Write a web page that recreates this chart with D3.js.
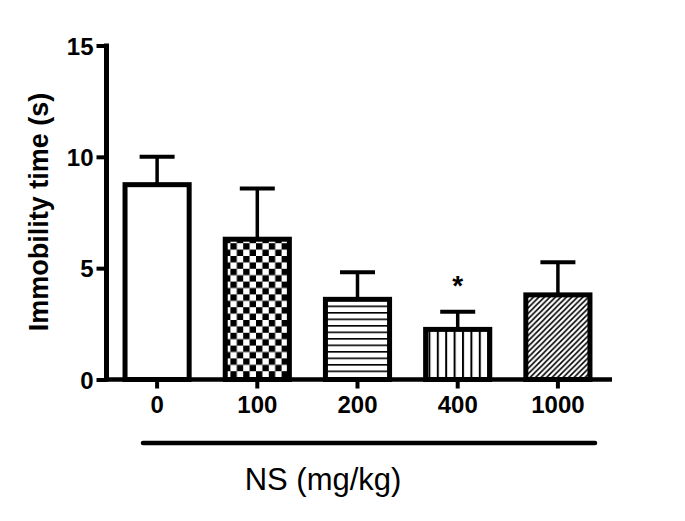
<!DOCTYPE html>
<html><head><meta charset="utf-8">
<script src="https://cdn.jsdelivr.net/npm/d3@7"></script>
<style>body{margin:0;background:#fff}svg{display:block}</style>
</head><body>
<script>
const categories = ["0","100","200","400","1000"];
const means = [8.75, 6.3, 3.6, 2.25, 3.8];
const sems = [1.25, 2.28, 1.22, 0.79, 1.47];
const patterns = ["none","checker","hlines","vlines","diag"];
const significance = ["","","","*",""];
const yTicks = [0,5,10,15];
const yLabel = "Immobility time (s)";
const xLabel = "NS (mg/kg)";

const W=685,H=521;
const svg=d3.select("body").append("svg").attr("width",W).attr("height",H);
const defs=svg.append("defs");
const cs=6.4;
const pc=defs.append("pattern").attr("id","checker").attr("patternUnits","userSpaceOnUse").attr("width",2*cs).attr("height",2*cs);
pc.append("rect").attr("width",2*cs).attr("height",2*cs).attr("fill","#fff");
pc.append("rect").attr("width",cs).attr("height",cs).attr("fill","#000");
pc.append("rect").attr("x",cs).attr("y",cs).attr("width",cs).attr("height",cs).attr("fill","#000");
const ph=defs.append("pattern").attr("id","hlines").attr("patternUnits","userSpaceOnUse").attr("width",10).attr("height",6.5);
ph.append("rect").attr("width",10).attr("height",6.5).attr("fill","#fff");
ph.append("rect").attr("y",0).attr("width",10).attr("height",1.6).attr("fill","#000");
const pv=defs.append("pattern").attr("id","vlines").attr("patternUnits","userSpaceOnUse").attr("width",8.4).attr("height",10);
pv.append("rect").attr("width",8.4).attr("height",10).attr("fill","#fff");
pv.append("rect").attr("x",0).attr("width",2).attr("height",10).attr("fill","#000");
const pd=defs.append("pattern").attr("id","diag").attr("patternUnits","userSpaceOnUse").attr("width",5.5).attr("height",5.5);
pd.append("rect").attr("width",5.5).attr("height",5.5).attr("fill","#fff");
pd.append("path").attr("d","M-1,1 L1,-1 M0,5.5 L5.5,0 M4.5,6.5 L6.5,4.5").attr("stroke","#000").attr("stroke-width",1.6);

const x=d3.scaleBand().domain(categories).range([107,608]).paddingInner(0.36).paddingOuter(0.18);
const y=d3.scaleLinear().domain([0,15]).range([379.5,45.5]);

const data=categories.map((c,i)=>({c,m:means[i],s:sems[i],p:patterns[i],sig:significance[i]}));
const g=svg.append("g");
data.forEach(d=>{
  const cx=x(d.c)+x.bandwidth()/2;
  g.append("line").attr("x1",cx).attr("x2",cx).attr("y1",y(d.m)).attr("y2",y(d.m+d.s)).attr("stroke","#000").attr("stroke-width",3.5);
  g.append("line").attr("x1",cx-17.5).attr("x2",cx+17.5).attr("y1",y(d.m+d.s)).attr("y2",y(d.m+d.s)).attr("stroke","#000").attr("stroke-width",4);
  if(d.sig){
    g.append("text").attr("x",cx).attr("y",y(d.m+d.s)-17).attr("text-anchor","middle")
     .attr("font-family","Liberation Sans, Arial, sans-serif").attr("font-weight","bold").attr("font-size",28).text(d.sig);
  }
});
g.selectAll("rect.bar").data(data).enter().append("rect").attr("class","bar")
 .attr("x",d=>x(d.c)).attr("width",x.bandwidth())
 .attr("y",d=>y(d.m)).attr("height",d=>y(0)-y(d.m))
 .attr("fill",d=>d.p==="none"?"#fff":`url(#${d.p})`)
 .attr("stroke","#000").attr("stroke-width",5);

const ya=svg.append("g").attr("transform","translate(106.5,0)")
 .call(d3.axisLeft(y).tickValues(yTicks).tickSize(10).tickPadding(3).tickFormat(d3.format("d")));
ya.select(".domain").attr("d",`M0,${y(15)-2}V${y(0)+2}`).attr("stroke","#000").attr("stroke-width",5);
ya.selectAll(".tick line").attr("stroke","#000").attr("stroke-width",4);
ya.selectAll(".tick text").attr("font-family","Liberation Sans, Arial, sans-serif").attr("font-weight","bold").attr("font-size",24).attr("fill","#000").attr("dy","0.36em");

const xa=svg.append("g").attr("transform",`translate(0,${y(0)})`)
 .call(d3.axisBottom(x).tickSize(9).tickPadding(7));
xa.select(".domain").attr("d",`M104,0H612`).attr("stroke","#000").attr("stroke-width",4.5);
xa.selectAll(".tick line").attr("stroke","#000").attr("stroke-width",4).attr("y1",2);
xa.selectAll(".tick text").attr("font-family","Liberation Sans, Arial, sans-serif").attr("font-weight","bold").attr("font-size",24).attr("fill","#000");

svg.append("line").attr("x1",143).attr("x2",595).attr("y1",443).attr("y2",443).attr("stroke","#000").attr("stroke-width",4.5).attr("stroke-linecap","round");
svg.append("text").attr("x",323).attr("y",490).attr("text-anchor","middle")
 .attr("font-family","Liberation Sans, Arial, sans-serif").attr("font-size",31).text(xLabel);
svg.append("text").attr("transform","translate(48,212) rotate(-90)").attr("text-anchor","middle")
 .attr("font-family","Liberation Sans, Arial, sans-serif").attr("font-weight","bold").attr("font-size",27).text(yLabel);
</script>
</body></html>
